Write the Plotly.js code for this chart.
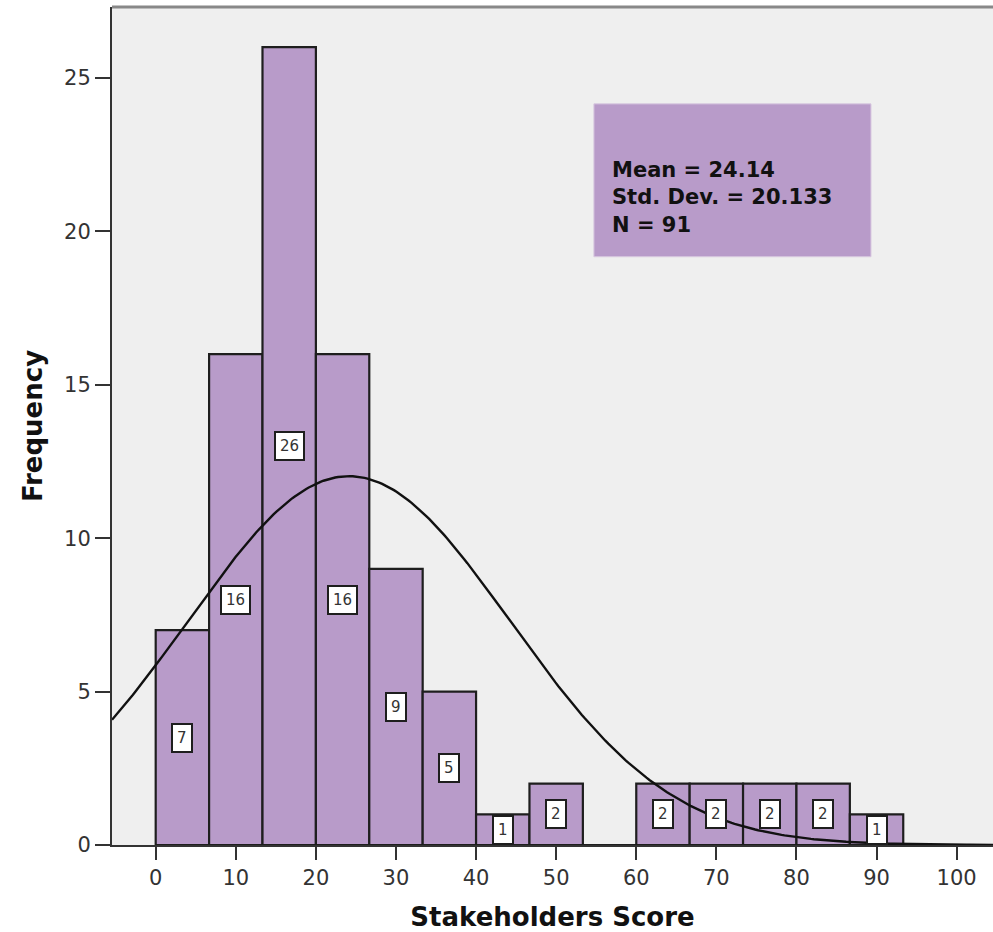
<!DOCTYPE html>
<html>
<head>
<meta charset="utf-8">
<script src="https://cdn.plot.ly/plotly-3.0.1.min.js"></script>
<style>
  html, body { margin: 0; padding: 0; background: #ffffff; }
  #chart { width: 993px; height: 932px; }
</style>
</head>
<body>
<div id="chart"></div>
<script>
// ---- data ----
const binStart = 0;
const binWidth = 100 / 15;
const counts = [7, 16, 26, 16, 9, 5, 1, 2, 0, 2, 2, 2, 2, 1];
const statMean = 24.14;
const statSD = 20.133;
const statN = 91;
const statLines = ["Mean = 24.14", "Std. Dev. = 20.133", "N = 91"];
const xTicks = [0, 10, 20, 30, 40, 50, 60, 70, 80, 90, 100];
const yTicks = [0, 5, 10, 15, 20, 25];
const xRange = [-5.456, 104.54];
const yRange = [0, 27.31];

// ---- derived ----
const centers = counts.map((c, i) => binStart + (i + 0.5) * binWidth);

const barTrace = {
  type: 'bar',
  x: centers,
  y: counts,
  width: binWidth,
  marker: { color: '#b89bc9', line: { color: '#1e1e1e', width: 2.2 } },
  hoverinfo: 'x+y',
  showlegend: false
};

// normal curve scaled to the histogram: N * binWidth * pdf
const curveX = [];
const curveY = [];
const steps = 300;
for (let k = 0; k <= steps; k++) {
  const x = xRange[0] + (xRange[1] - xRange[0]) * k / steps;
  const z = (x - statMean) / statSD;
  curveX.push(x);
  curveY.push(statN * binWidth * Math.exp(-0.5 * z * z) / (statSD * Math.sqrt(2 * Math.PI)));
}
const curveTrace = {
  type: 'scatter',
  mode: 'lines',
  x: curveX,
  y: curveY,
  line: { color: '#111111', width: 2.4 },
  hoverinfo: 'skip',
  showlegend: false
};

const countLabels = [];
counts.forEach((c, i) => {
  if (c > 0) {
    countLabels.push({
      x: centers[i], y: c / 2, xref: 'x', yref: 'y',
      text: String(c), showarrow: false,
      font: { family: 'DejaVu Sans', size: 15, color: '#333333' },
      bgcolor: '#ffffff', bordercolor: '#1e1e1e', borderwidth: 2, borderpad: 4
    });
  }
});

const statAnnotation = {
  xref: 'paper', yref: 'paper', x: 0.5653, y: 0.773,
  xanchor: 'left', yanchor: 'middle', align: 'left',
  text: statLines.join('<br>'), showarrow: false,
  font: { family: 'DejaVu Sans', size: 21, color: '#111111', weight: 'bold' }
};

const layout = {
  width: 993, height: 932,
  margin: { l: 112, r: 0, t: 7, b: 87 },
  paper_bgcolor: '#ffffff',
  plot_bgcolor: '#efefef',
  bargap: 0,
  showlegend: false,
  xaxis: {
    range: xRange, tickvals: xTicks, ticktext: xTicks.map(String),
    ticks: 'outside', ticklen: 13, tickwidth: 2, tickcolor: '#333333',
    showline: true, linecolor: '#333333', linewidth: 2,
    showgrid: false, zeroline: false,
    tickfont: { family: 'DejaVu Sans', size: 21, color: '#333333' },
    title: { text: 'Stakeholders Score', standoff: 20,
             font: { family: 'DejaVu Sans', size: 26, color: '#111111', weight: 'bold' } }
  },
  yaxis: {
    range: yRange, tickvals: yTicks, ticktext: yTicks.map(String),
    ticks: 'outside', ticklen: 15, tickwidth: 2, tickcolor: '#333333',
    showline: true, linecolor: '#333333', linewidth: 2,
    showgrid: false, zeroline: false,
    tickfont: { family: 'DejaVu Sans', size: 21, color: '#333333' },
    title: { text: 'Frequency', standoff: 14,
             font: { family: 'DejaVu Sans', size: 26, color: '#111111', weight: 'bold' } }
  },
  shapes: [
    { type: 'rect', xref: 'paper', yref: 'paper', x0: 0.547, x1: 0.8615, y0: 0.702, y1: 0.8844,
      fillcolor: '#b89bc9', line: { color: '#d8c8e0', width: 1 }, layer: 'above' },
    { type: 'line', xref: 'paper', yref: 'paper', x0: 0, x1: 1, y0: 1, y1: 1,
      line: { color: '#888888', width: 3 } }
  ],
  annotations: countLabels.concat([statAnnotation])
};

Plotly.newPlot('chart', [barTrace, curveTrace], layout, { displayModeBar: false, staticPlot: true });
</script>
</body>
</html>
